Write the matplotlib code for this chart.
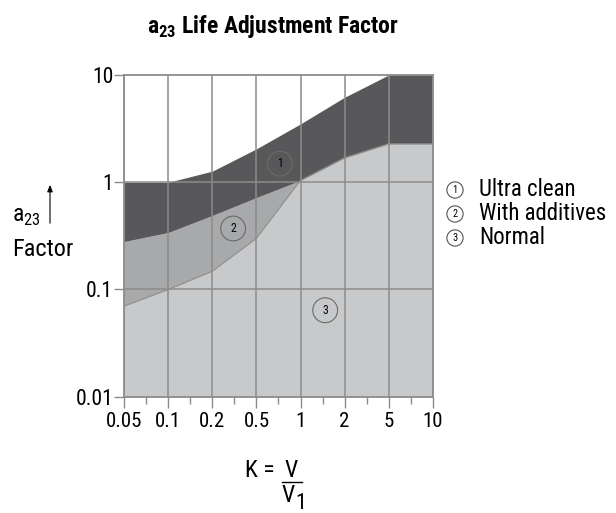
import matplotlib
matplotlib.use('Agg')
import matplotlib.pyplot as plt
from matplotlib import font_manager
import numpy as np

# DATA
k_labels = ['0.05', '0.1', '0.2', '0.5', '1', '2', '5', '10']
ultra_top = [1.0, 1.0, 1.27, 2.05, 3.5, 6.2, 10.0, 10.0]
additive_top = [0.28, 0.34, 0.49, 0.72, 1.04, 1.69, 2.28, 2.28]
normal_top = [0.07, 0.10, 0.148, 0.30, 1.04, 1.69, 2.28, 2.28]
y_ticks = [0.01, 0.1, 1, 10]
y_labels = ['0.01', '0.1', '1', '10']
legend_items = ['Ultra clean', 'With additives', 'Normal']
zone_marks = [('1', 3.53, 1.49), ('2', 2.47, 0.37), ('3', 4.56, 0.064)]

# look for a condensed font
names = {f.name for f in font_manager.fontManager.ttflist}
FONT = 'Liberation Sans'
for cand in ['Roboto Condensed', 'Liberation Sans Narrow', 'DejaVu Sans Condensed']:
    if cand in names:
        FONT = cand
        break
plt.rcParams['font.family'] = [FONT, 'DejaVu Sans']
plt.rcParams['mathtext.fontset'] = 'custom'
plt.rcParams['mathtext.rm'] = FONT
plt.rcParams['mathtext.bf'] = FONT + ':bold'

C_DARK = '#58585a'
C_MID = '#a8a9ab'
C_LIGHT = '#c8c9cb'
C_GRID = '#8c8c8c'
FS = 15

fig = plt.figure(figsize=(6.16, 5.13), dpi=100)
ax = fig.add_axes([0.2018, 0.2267, 0.5006, 0.6271])
x = np.arange(len(k_labels))

ax.fill_between(x, 0.01, normal_top, color=C_LIGHT, lw=0, zorder=1)
ax.fill_between(x, normal_top, additive_top, color=C_MID, lw=0, zorder=1)
ax.fill_between(x, additive_top, ultra_top, color=C_DARK, lw=0, zorder=1)
ax.plot(x, normal_top, color='#909090', lw=0.8, zorder=2)

ax.set_yscale('log')
ax.set_xlim(0, len(k_labels) - 1)
ax.set_ylim(0.01, 10)

# grid
for xi in x:
    ax.axvline(xi, color=C_GRID, lw=1.1, zorder=3)
for yv in [0.1, 1]:
    ax.axhline(yv, color=C_GRID, lw=1.1, zorder=3)
for s in ax.spines.values():
    s.set_color(C_GRID)
    s.set_linewidth(1.3)
    s.set_zorder(4)

ax.set_xticks(x)
ax.set_xticklabels(k_labels, fontsize=FS)
ax.set_xticks(x[:-1] + 0.5, minor=True)
ax.tick_params(axis='x', which='major', length=8, width=1, color=C_GRID, pad=3)
ax.tick_params(axis='x', which='minor', length=5, width=1, color=C_GRID)
ax.set_yticks(y_ticks)
ax.set_yticklabels(y_labels, fontsize=FS + 0.5)
ax.yaxis.set_minor_locator(matplotlib.ticker.NullLocator())
ax.tick_params(axis='y', length=7, width=1, color=C_GRID, pad=1)

# circled zone numbers
for lab, xi, yv in zone_marks:
    ax.text(xi, yv, lab, fontsize=8.5, ha='center', va='center', zorder=5,
            bbox=dict(boxstyle='circle,pad=0.5', fc='none', ec='#6a6a6a', lw=0.8))

# legend made of text
for i, name in enumerate(legend_items):
    yy = 1 - (190 + i * 24) / 513
    fig.text(455 / 616, yy, str(i + 1), fontsize=7.5, ha='center', va='center',
             bbox=dict(boxstyle='circle,pad=0.3', fc='none', ec='#555555', lw=0.8))
    fig.text(479 / 616, yy, name, fontsize=16.5, ha='left', va='center')

# title
fig.text(273 / 616, 1 - 33 / 513, r'a$_{\mathbf{23}}$ Life Adjustment Factor',
         fontsize=17, fontweight='bold', ha='center', va='baseline')

# y label with arrow
fig.text(12 / 616, 1 - 216 / 513, r'a$_{\mathregular{23}}$', fontsize=17, ha='left', va='center')
fig.text(12 / 616, 1 - 250 / 513, 'Factor', fontsize=17.5, ha='left', va='center')
fig.add_artist(matplotlib.patches.FancyArrowPatch(
    (50 / 616, 1 - 226 / 513), (50 / 616, 1 - 182 / 513), transform=fig.transFigure,
    arrowstyle='-|>,head_length=4,head_width=1.6', color='black', lw=0.8))

# x label K = V / V1
fig.text(245 / 616, 1 - 477 / 513, 'K =', fontsize=17, ha='left', va='baseline')
fig.text(291 / 616, 1 - 477 / 513, 'V', fontsize=17, ha='center', va='baseline')
fig.add_artist(matplotlib.lines.Line2D([282 / 616, 302 / 616], [1 - 482 / 513, 1 - 482 / 513],
                                       transform=fig.transFigure, color='black', lw=1))
fig.text(288 / 616, 1 - 502 / 513, 'V', fontsize=17, ha='center', va='baseline')
fig.text(301 / 616, 1 - 509 / 513, '1', fontsize=16, ha='center', va='baseline')

fig.savefig('out.png', dpi=100)
